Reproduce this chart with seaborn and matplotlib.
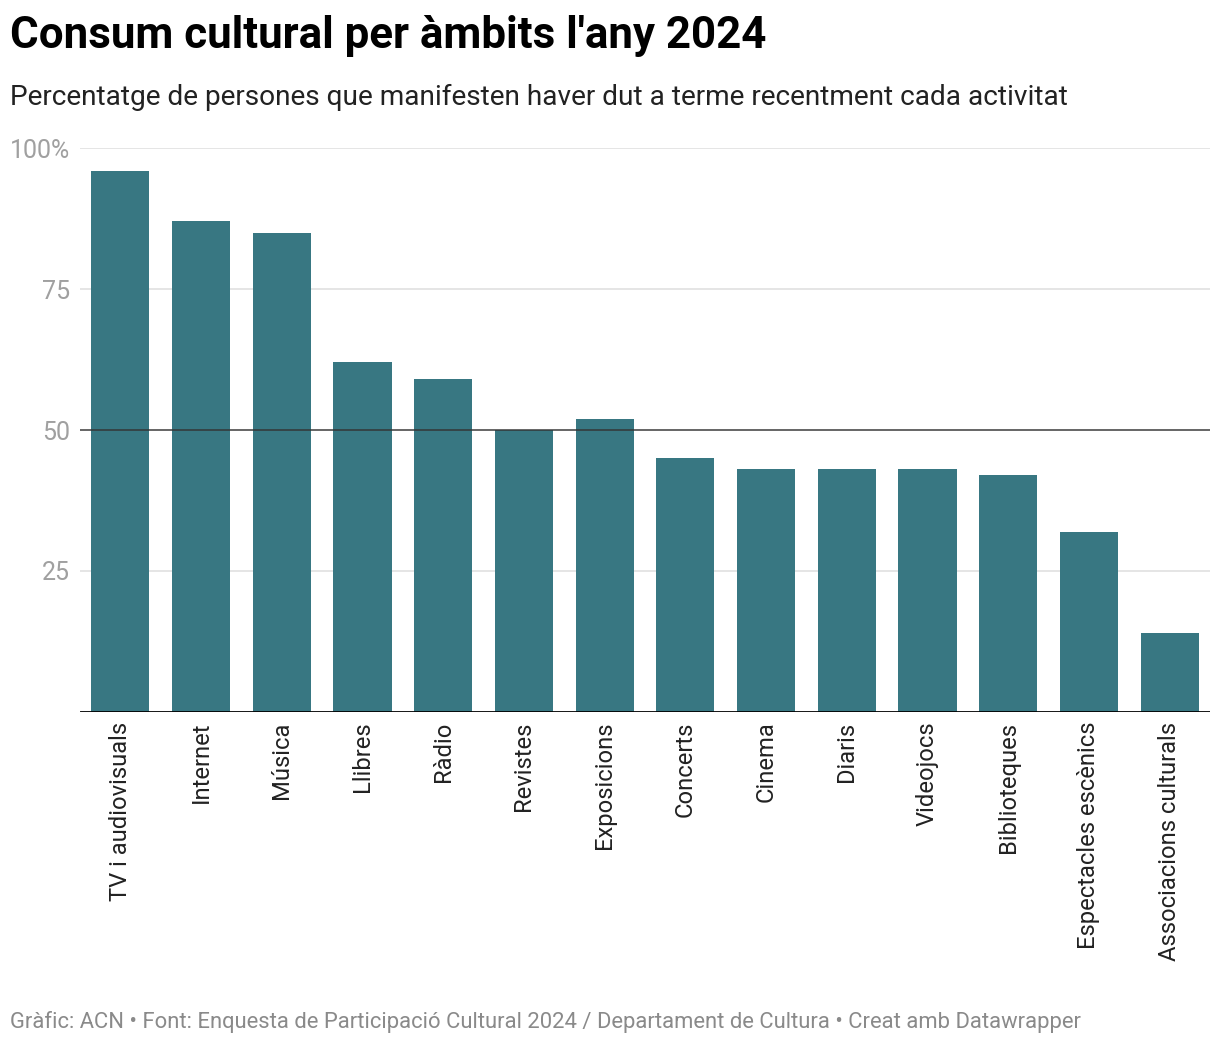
import matplotlib
matplotlib.use("Agg")
import matplotlib.pyplot as plt
import seaborn as sns
import pandas as pd

sns.set_style("white")
plt.rcParams['font.family'] = ['Roboto', 'DejaVu Sans']

# Data
ambits = ['TV i audiovisuals', 'Internet', 'Música', 'Llibres', 'Ràdio', 'Revistes',
          'Exposicions', 'Concerts', 'Cinema', 'Diaris', 'Videojocs', 'Biblioteques',
          'Espectacles escènics', 'Associacions culturals']
percentatge = [96, 87, 85, 62, 59, 50, 52, 45, 43, 43, 43, 42, 32, 14]
yticks = [25, 50, 75, 100]
ytick_labels = ['25', '50', '75', '100%']

df = pd.DataFrame({'Ambit': ambits, 'Pct': percentatge})

fig = plt.figure(figsize=(12.2, 10.46), dpi=100)
ax = fig.add_axes([80/1220, (1046-712)/1046, 1130/1220, (712-148)/1046])

# gridlines
for y in yticks:
    if y != 50:
        ax.axhline(y, color='#e3e3e3', lw=1.3, zorder=0)

sns.barplot(data=df, x='Ambit', y='Pct', color='#387782', saturation=1,
            width=0.72, linewidth=0, ax=ax, zorder=2)

ax.axhline(50, color='#333333', lw=1.4, alpha=0.75, zorder=3)
ax.axhline(0, color='#000000', lw=2, zorder=4)

ax.set_xlim(-0.5, len(ambits) - 0.5)
ax.set_ylim(0, 100)
ax.set_yticks(yticks)
ax.set_yticklabels(ytick_labels)
ax.tick_params(axis='y', length=0, pad=7, labelsize=18, labelcolor='#a0a0a0')
ax.tick_params(axis='x', length=0, pad=7, labelsize=17.1, labelcolor='#222222')
plt.setp(ax.get_xticklabels(), rotation=90, va='top', ha='center')
ax.set_xlabel('')
ax.set_ylabel('')
for s in ax.spines.values():
    s.set_visible(False)

fig.text(10/1220, 1 - 36/1046, "Consum cultural per àmbits l'any 2024", fontsize=31.6,
         fontweight='bold', color='#000000', va='center', ha='left')
fig.text(10/1220, 1 - 97/1046,
         "Percentatge de persones que manifesten haver dut a terme recentment cada activitat",
         fontsize=20.2, color='#222222', va='center', ha='left')
fig.text(10/1220, 1 - 1022/1046,
         "Gràfic: ACN • Font: Enquesta de Participació Cultural 2024 / Departament de Cultura • Creat amb Datawrapper",
         fontsize=15.8, color='#8a8a8a', va='center', ha='left')

fig.savefig('out.png', dpi=100)
